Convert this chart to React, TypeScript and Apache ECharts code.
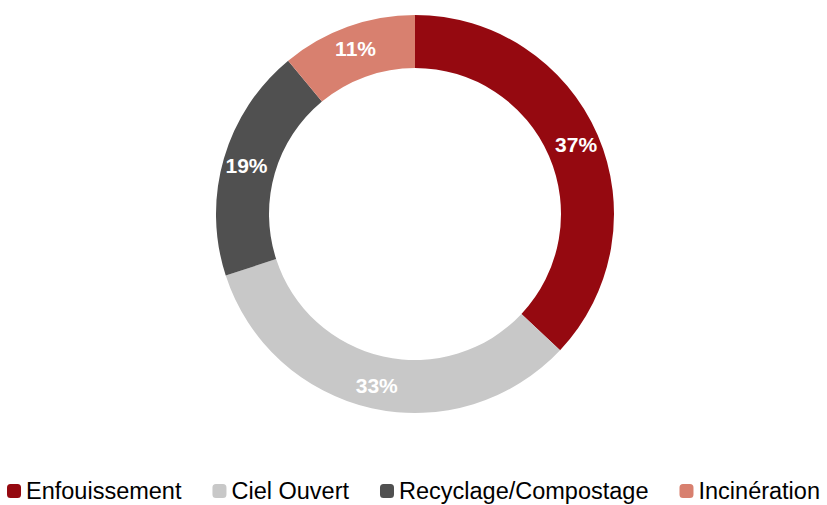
import React, { useEffect, useRef } from "react";
import * as echarts from "echarts";

const categories = ["Enfouissement", "Ciel Ouvert", "Recyclage/Compostage", "Incinération"];
const values = [37, 33, 19, 11];
const colors = ["#950910", "#C8C8C8", "#505050", "#D8806F"];

export default function App() {
  const ref = useRef<HTMLDivElement>(null);
  useEffect(() => {
    document.body.style.margin = "0";
    const chart = echarts.init(ref.current!, null, { renderer: "svg" });
    chart.setOption({
      animation: false,
      color: colors,
      legend: {
        data: categories,
        left: "center",
        top: 479,
        padding: 0,
        icon: "roundRect",
        itemWidth: 14,
        itemHeight: 14,
        itemGap: 31,
        textStyle: {
          fontFamily: "Arial, 'Liberation Sans', sans-serif",
          fontSize: 23.5,
          color: "#000",
        },
      },
      series: [
        {
          type: "pie",
          center: [415, 214],
          radius: [146, 199],
          startAngle: 90,
          clockwise: true,
          avoidLabelOverlap: false,
          label: {
            show: true,
            position: "inside",
            formatter: "{c}%",
            color: "#fff",
            fontFamily: "Arial, 'Liberation Sans', sans-serif",
            fontWeight: "bold",
            fontSize: 21,
          },
          labelLine: { show: false },
          emphasis: { disabled: true },
          itemStyle: { borderWidth: 0 },
          data: categories.map((name, i) => ({ name, value: values[i] })),
        },
      ],
    });
    return () => chart.dispose();
  }, []);
  return <div ref={ref} style={{ width: 827, height: 505 }} />;
}
